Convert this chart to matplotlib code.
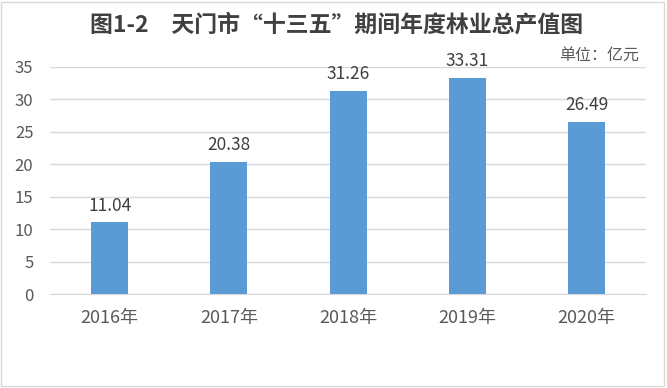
import matplotlib.pyplot as plt
import matplotlib.patches as mpatches

plt.rcParams["font.family"] = ["Noto Sans CJK SC", "DejaVu Sans"]

years = ["2016年", "2017年", "2018年", "2019年", "2020年"]
values = [11.04, 20.38, 31.26, 33.31, 26.49]

C_BAR = "#5B9BD5"
C_TEXT = "#595959"
C_GRID = "#D9D9D9"

fig = plt.figure(figsize=(6.67, 3.88), dpi=100)
ax = fig.add_axes([0.075, 0.242, 0.894, 0.586])

x = range(len(years))
ax.bar(x, values, width=0.31, color=C_BAR, zorder=3)
for xi, v in zip(x, values):
    ax.text(xi, v + 1.2, f"{v:.2f}", ha="center", va="bottom", fontsize=12.5, color="#404040")

ax.set_xlim(-0.5, len(years) - 0.5)
ax.set_ylim(0, 35)
ax.set_yticks(range(0, 36, 5))
ax.set_xticks(list(x))
ax.set_xticklabels(years)
ax.yaxis.grid(True, color=C_GRID, lw=1, zorder=0)
ax.tick_params(axis="both", length=0, colors=C_TEXT)
ax.tick_params(axis="x", pad=11, labelsize=13)
ax.tick_params(axis="y", pad=12, labelsize=12)
for s in ["top", "right", "left"]:
    ax.spines[s].set_visible(False)
ax.spines["bottom"].set_color(C_GRID)

fig.text(0.505, 0.935, "图1-2　天门市“十三五”期间年度林业总产值图", ha="center", va="center",
         fontsize=16.5, fontweight="bold", color="#404040")
fig.text(0.898, 0.858, "单位：亿元", ha="center", va="center", fontsize=11.5, color=C_TEXT)

# 外框
fig.patches.append(mpatches.Rectangle((0.002, 0.004), 0.994, 0.992, transform=fig.transFigure,
                                      fill=False, edgecolor="#D9D9D9", lw=1))

fig.savefig("out.png", dpi=100)
